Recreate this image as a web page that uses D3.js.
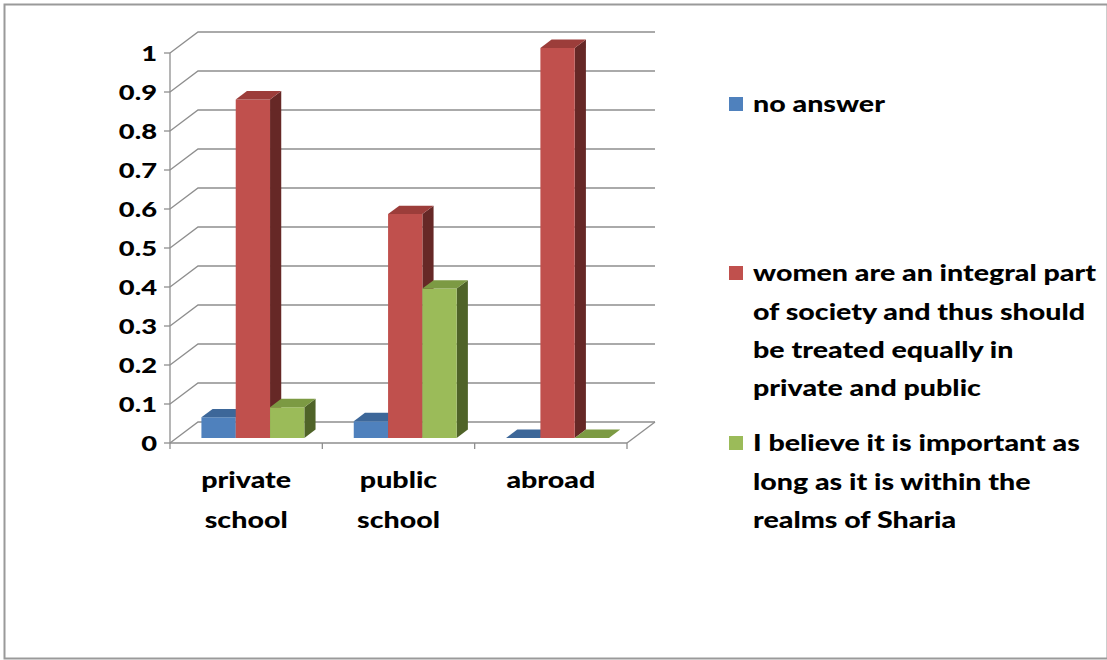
<!DOCTYPE html>
<meta charset="utf-8">
<style>
  body { margin: 0; background: #fff; }
  text { font-family: Lato, "Open Sans", sans-serif; font-weight: 900; fill: #000; }
  .grid { stroke: #8e8e8e; stroke-width: 1.3px; fill: none; }
</style>
<body>
<script src="https://cdn.jsdelivr.net/npm/d3@7/dist/d3.min.js"></script>
<script>

  var categories = ["private school", "public school", "abroad"];
  var seriesNames = ["no answer",
    "women are an integral part of society and thus should be treated equally in private and public",
    "I believe it is important as long as it is within the realms of Sharia"];
  var legendLines = [
    ["no answer"],
    ["women are an integral part", "of society and thus should", "be treated equally in", "private and public"],
    ["I believe it is important as", "long as it is within the", "realms of Sharia"]
  ];
  var noAnswer = [0.053, 0.043, 0];
  var integralPart = [0.868, 0.574, 1.0];
  var withinSharia = [0.079, 0.383, 0];
  var yTicks = [0, 0.1, 0.2, 0.3, 0.4, 0.5, 0.6, 0.7, 0.8, 0.9, 1];
  var yTickLabels = ["0", "0.1", "0.2", "0.3", "0.4", "0.5", "0.6", "0.7", "0.8", "0.9", "1"];

  var colors = [
    { front: "#4f81bd", top: "#3d6799", side: "#2c4d75" },
    { front: "#c0504d", top: "#9c3d3a", side: "#662826" },
    { front: "#9bbb59", top: "#7c9a43", side: "#4f6328" }
  ];

  var width = 1107, height = 660;
  var depthX = 28, depthY = 21;     // full depth of floor
  var barZ0 = 0.24, barZ1 = 0.64;   // bar depth within the floor
  var textStretch = 1.3;

  var svg = d3.select("body").append("svg")
    .attr("width", width)
    .attr("height", height);

  svg.append("rect")
    .attr("x", 4.5).attr("y", 4.5)
    .attr("width", width - 4).attr("height", height - 6)
    .attr("fill", "#fff").attr("stroke", "#9a9a9a").attr("stroke-width", 2);

  var x = d3.scaleBand().domain(categories).range([170, 627]);
  var xs = d3.scaleBand().domain(seriesNames).range([0, x.bandwidth()]).paddingOuter(0.72);
  var y = d3.scaleLinear().domain([0, 1]).range([443, 53]);

  // project a point (front px, value, depth 0..1)
  function P(px, v, z) {
    return [px + z * depthX, y(v) - z * depthY];
  }

  function stretchedText(g, tx, ty, str, anchor, size) {
    return g.append("text")
      .attr("transform", "translate(" + tx + "," + ty + ") scale(" + textStretch + ",1)")
      .attr("text-anchor", anchor)
      .attr("dy", "0.36em")
      .style("font-size", size + "px")
      .text(str);
  }

  // walls: back gridlines and side diagonals
  var grid = svg.append("g");
  yTicks.forEach(function (t) {
    var a = P(170, t, 0), b = P(170, t, 1), c = P(627, t, 1);
    grid.append("path").attr("class", "grid")
      .attr("d", "M" + a + "L" + b + "L" + c);
  });
  // floor right edge
  var fr0 = P(627, 0, 0), fr1 = P(627, 0, 1);
  grid.append("path").attr("class", "grid").attr("d", "M" + fr0 + "L" + fr1);

  // y axis
  var yAxis = svg.append("g");
  yAxis.append("line").attr("class", "grid")
    .attr("x1", 170).attr("x2", 170).attr("y1", y(1)).attr("y2", y(0));
  yTicks.forEach(function (t, i) {
    yAxis.append("line").attr("class", "grid")
      .attr("x1", 164).attr("x2", 170).attr("y1", y(t)).attr("y2", y(t));
    stretchedText(yAxis, 157, y(t), yTickLabels[i], "end", 21);
  });

  // x axis (front floor edge)
  var xAxis = svg.append("g");
  xAxis.append("line").attr("class", "grid")
    .attr("x1", 170).attr("x2", 627).attr("y1", y(0)).attr("y2", y(0));
  [170].concat(categories.map(function (c) { return x(c) + x.bandwidth(); })).forEach(function (px) {
    xAxis.append("line").attr("class", "grid")
      .attr("x1", px).attr("x2", px).attr("y1", y(0)).attr("y2", y(0) + 6);
  });
  categories.forEach(function (c) {
    var words = c.split(" ");
    var cx = x(c) + x.bandwidth() / 2;
    words.forEach(function (w, j) {
      stretchedText(xAxis, cx, 480 + j * 40, w, "middle", 22);
    });
  });

  // bars
  var seriesValues = [noAnswer, integralPart, withinSharia];
  var bars = svg.append("g");
  categories.forEach(function (c, ci) {
    seriesNames.forEach(function (s, si) {
      var v = seriesValues[si][ci];
      var x0 = x(c) + xs(s), x1 = x0 + xs.bandwidth();
      var col = colors[si];
      var fbl = P(x0, 0, barZ0), fbr = P(x1, 0, barZ0),
          ftl = P(x0, v, barZ0), ftr = P(x1, v, barZ0),
          btl = P(x0, v, barZ1), btr = P(x1, v, barZ1),
          bbr = P(x1, 0, barZ1);
      if (v > 0) {
        bars.append("path").attr("fill", col.side)
          .attr("d", "M" + fbr + "L" + bbr + "L" + btr + "L" + ftr + "Z");
        bars.append("path").attr("fill", col.front)
          .attr("d", "M" + fbl + "L" + fbr + "L" + ftr + "L" + ftl + "Z");
      }
      bars.append("path").attr("fill", col.top)
        .attr("d", "M" + ftl + "L" + ftr + "L" + btr + "L" + btl + "Z");
    });
  });

  // legend
  var legend = svg.append("g");
  var legendY = [[104], [273, 312, 350, 388], [443, 482, 520]];
  legendLines.forEach(function (lines, i) {
    legend.append("rect")
      .attr("x", 729).attr("y", legendY[i][0] - 7)
      .attr("width", 14).attr("height", 14)
      .attr("fill", colors[i].front);
    lines.forEach(function (ln, j) {
      stretchedText(legend, 753, legendY[i][j], ln, "start", 22);
    });
  });

</script>
</body>
